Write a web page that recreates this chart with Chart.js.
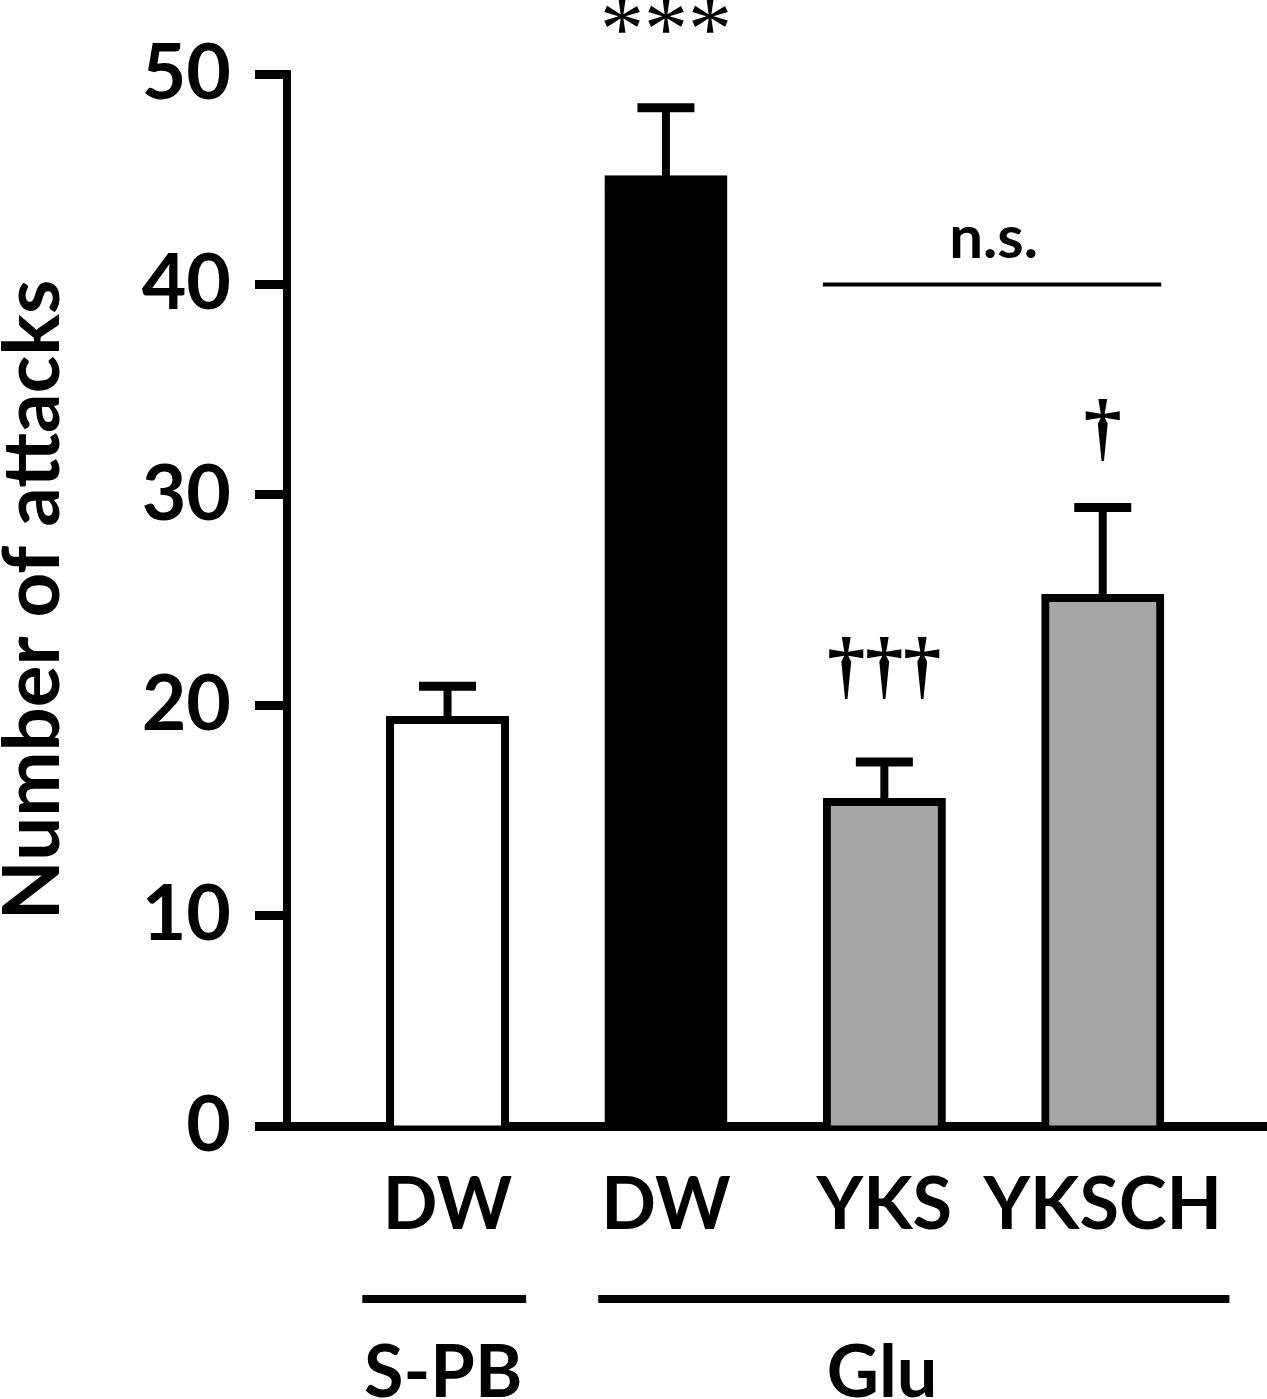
<!DOCTYPE html>
<html>
<head>
<meta charset="utf-8">
<script src="https://cdn.jsdelivr.net/npm/chart.js@4/dist/chart.umd.min.js"></script>
<style>
  html, body { margin: 0; padding: 0; background: #fff; }
</style>
</head>
<body>
<canvas id="attacks" width="1267" height="1399"></canvas>
<script>
var categories = ['DW', 'DW', 'YKS', 'YKSCH'];
var groups = ['S-PB', 'Glu'];
var means = [19.3, 45.0, 15.4, 25.1];
var sem = [1.6, 3.4, 1.9, 4.3];
var marks = ['', '***', '\u2020\u2020\u2020', '\u2020'];
var yTicks = [0, 10, 20, 30, 40, 50];

var fills = ['#ffffff', '#000000', '#a6a6a6', '#a6a6a6'];
var sans = 'Lato, "Open Sans", sans-serif';

// error bars, significance marks and the group lines under the axis
var extras = {
    id: 'extras',
    afterDatasetsDraw: function (chart, args, opts) {
        var ctx = chart.ctx;
        var xs = chart.scales.x, ys = chart.scales.y;
        var bars = chart.getDatasetMeta(0).data;
        ctx.save();
        ctx.strokeStyle = '#000';
        ctx.fillStyle = '#000';
        bars.forEach(function (bar, i) {
            var yMean = ys.getPixelForValue(means[i]);
            var yTop = ys.getPixelForValue(means[i] + sem[i]);
            ctx.lineWidth = 8;
            ctx.beginPath();
            ctx.moveTo(bar.x, yMean);
            ctx.lineTo(bar.x, yTop);
            ctx.stroke();
            ctx.lineWidth = 9;
            ctx.beginPath();
            ctx.moveTo(bar.x - 28.5, yTop);
            ctx.lineTo(bar.x + 28.5, yTop);
            ctx.stroke();
            if (marks[i]) {
                ctx.font = (marks[i].charAt(0) === '*' ? '88px' : 'bold 76px') + ' "Liberation Serif", serif';
                ctx.textAlign = 'center';
                ctx.textBaseline = 'alphabetic';
                ctx.fillText(marks[i], bar.x, yTop - opts.markGap[i]);
            }
        });

        // n.s. bracket between YKS and YKSCH
        var b3 = bars[2], b4 = bars[3];
        var yNs = ys.getPixelForValue(opts.nsLevel);
        ctx.lineWidth = 4;
        ctx.beginPath();
        ctx.moveTo(b3.x - b3.width / 2 - 4, yNs);
        ctx.lineTo(b4.x + b4.width / 2 + 1, yNs);
        ctx.stroke();
        ctx.font = 'bold 60px ' + sans;
        ctx.textAlign = 'center';
        ctx.textBaseline = 'alphabetic';
        ctx.fillText('n.s.', (b3.x - b3.width / 2 + b4.x + b4.width / 2) / 2, yNs - 26);

        // treatment groups below the category labels
        var base = chart.chartArea.bottom;
        ctx.lineWidth = 8;
        ctx.font = 'bold 72px ' + sans;
        groups.forEach(function (g, k) {
            var span = opts.groupSpan[k];
            ctx.beginPath();
            ctx.moveTo(xs.getPixelForValue(span[0]), base + 173);
            ctx.lineTo(xs.getPixelForValue(span[1]), base + 173);
            ctx.stroke();
            ctx.fillText(g, xs.getPixelForValue(opts.groupAt[k]), base + 271);
        });
        ctx.restore();
    }
};

new Chart(document.getElementById('attacks'), {
    type: 'bar',
    data: {
        datasets: [{
            data: means.map(function (m, i) { return { x: i + 1, y: m }; }),
            backgroundColor: fills,
            borderColor: '#000',
            borderWidth: 8,
            borderSkipped: 'start',
            inflateAmount: 4,
            barThickness: 115
        }]
    },
    options: {
        responsive: false,
        animation: false,
        layout: { padding: { top: 74, right: 0, bottom: 0, left: 0 } },
        plugins: {
            legend: { display: false },
            tooltip: { enabled: false },
            extras: {
                markGap: [0, 50, 72, 55],
                nsLevel: 40,
                groupSpan: [[0.61, 1.36], [1.69, 4.58]],
                groupAt: [0.98, 2.99]
            }
        },
        scales: {
            x: {
                type: 'linear',
                offset: false,
                min: 0.265,
                max: 4.752,
                z: 1,
                afterBuildTicks: function (s) {
                    s.ticks = categories.map(function (c, i) { return { value: i + 1 }; });
                },
                afterFit: function (s) { s.height = 273; },
                grid: { display: false },
                border: { display: true, color: '#000', width: 9 },
                ticks: {
                    autoSkip: false,
                    maxRotation: 0,
                    padding: 29,
                    color: '#000',
                    font: { family: sans, size: 72, weight: 'bold' },
                    callback: function (v) { return categories[v - 1]; }
                }
            },
            y: {
                min: 0,
                max: 50,
                afterBuildTicks: function (s) {
                    s.ticks = yTicks.map(function (v) { return { value: v }; });
                },
                afterFit: function (s) { s.width = 287; },
                grid: {
                    drawOnChartArea: false,
                    drawTicks: true,
                    tickLength: 32,
                    tickWidth: 9,
                    tickColor: '#000'
                },
                border: { display: true, color: '#000', width: 8 },
                ticks: {
                    padding: 24,
                    color: '#000',
                    font: { family: sans, size: 77, weight: 'bold' }
                },
                title: {
                    display: true,
                    text: 'Number of attacks',
                    color: '#000',
                    padding: 0,
                    font: { family: sans, size: 78, weight: 'bold', lineHeight: 0.87 }
                }
            }
        }
    },
    plugins: [extras]
});
</script>
</body>
</html>
